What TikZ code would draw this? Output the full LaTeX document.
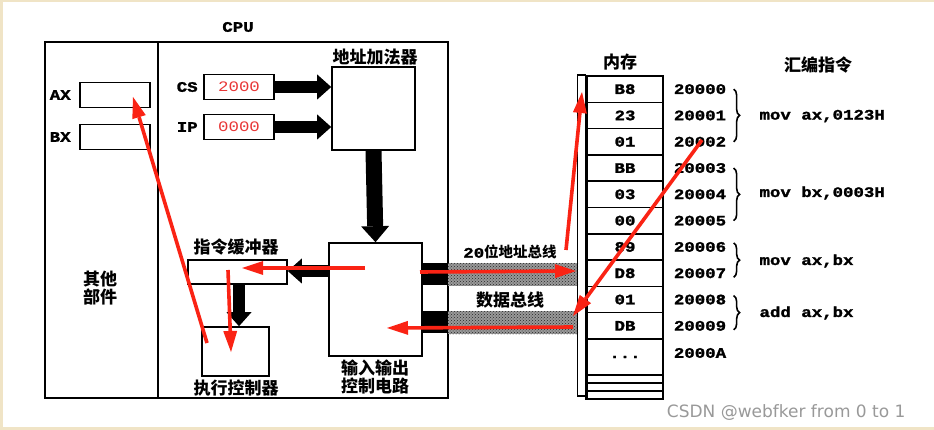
\documentclass[tikz,border=0pt]{standalone}
\usepackage{fontspec}
\setmainfont{Liberation Mono}[FakeStretch=1.2,BoldFeatures={FakeBold=1.6}]
\newfontfamily\cjk{Noto Sans CJK SC}
\newfontfamily\wmfont{DejaVu Sans}
\usetikzlibrary{arrows.meta,patterns,decorations.pathreplacing,positioning}
\definecolor{hl}{RGB}{250,35,20}
\definecolor{digit}{RGB}{232,55,55}
\definecolor{frame}{RGB}{240,228,198}

\begin{document}
\begin{tikzpicture}[x=1pt,y=-1pt,
	blk/.style={draw,line width=1.6pt,inner sep=0pt,fill=white},
	lat/.style={font=\bfseries\fontsize{14.5}{16}\selectfont},
	han/.style={font=\cjk\bfseries\fontsize{17}{17}\selectfont,align=center},
	fat/.style={line width=12pt,-{Triangle[length=14pt,width=25pt,line width=0pt]}},
	redarr/.style={hl,line width=3.6pt,-{Triangle[length=21pt,width=14pt,line width=0pt]}},
	cell/.style={draw,line width=1.5pt,minimum width=76pt,minimum height=26.3pt,inner sep=0pt,lat},
	brc/.style={decorate,decoration={brace,amplitude=6pt},line width=1.6pt}]
	\fill[frame] (0,0) rectangle (934,430);
	\fill[white] (3,2) rectangle (934,427);
	\useasboundingbox (0,0) rectangle (934,430);
	% CPU
	\node[blk,minimum width=403pt,minimum height=356pt] (cpu) at (246.5,220) {};
	\draw[line width=1.6pt] ([xshift=114pt]cpu.north west) -- ([xshift=114pt]cpu.south west);
	\node[lat] (cpulbl) at (238,27) {CPU};
	\node[blk,minimum width=70pt,minimum height=25pt] (ax) at (115,95) {};
	\node[blk,minimum width=70pt,minimum height=25pt] (bx) at (115,137) {};
	\node[lat,left=5pt of ax] (axlbl) {AX};
	\node[lat,left=5pt of bx] (bxlbl) {BX};
	\node[han,font=\cjk\bfseries\fontsize{17}{16}\selectfont] (other) at (100,288) {其他\\部件};
	\node[blk,minimum width=70pt,minimum height=25pt,lat,font=\fontsize{14.5}{16}\selectfont,text=digit] (cs) at (239,87) {2000};
	\node[blk,minimum width=70pt,minimum height=25pt,lat,font=\fontsize{14.5}{16}\selectfont,text=digit] (ip) at (239,127) {0000};
	\node[lat,left=2pt of cs] (cslbl) {CS};
	\node[lat,left=2pt of ip] (iplbl) {IP};
	\node[blk,minimum width=83pt,minimum height=83pt] (adder) at (373.5,108.5) {};
	\node[han] (adderlbl) at (375,57) {地址加法器};
	\node[blk,minimum width=93pt,minimum height=113pt] (io) at (375.5,299.5) {};
	\node[han,font=\cjk\bfseries\fontsize{17}{16}\selectfont] (iolbl) at (375,377) {输入输出\\控制电路};
	\node[blk,minimum width=99pt,minimum height=24pt] (buf) at (237.5,272) {};
	\node[han] (buflbl) at (236,247) {指令缓冲器};
	\node[blk,minimum width=67pt,minimum height=49pt] (exec) at (235.5,351.5) {};
	\node[han] (execlbl) at (236,388) {执行控制器};
	% thick arrows
	\draw[fat] (cs.east) -- (cs.east -| adder.west);
	\draw[fat] (ip.east) -- (ip.east -| adder.west);
	\draw[fat,line width=16pt,-{Triangle[length=16pt,width=28pt,line width=0pt]}] (adder.south) -- (io.north);
	\draw[fat] (io.west |- 0,271) -- (buf.east |- 0,271);
	\draw[fat] (buf.south -| 239,0) -- (exec.north -| 239,0);
	% buses
	\fill (422,263) rectangle (448,285);
	\fill (422,311) rectangle (448,333);
	\fill[black!40] (448,263) rectangle (578,286);
	\fill[pattern=crosshatch dots,pattern color=black!85] (448,263) rectangle (578,286);
	\fill[black!40] (448,311) rectangle (578,334);
	\fill[pattern=crosshatch dots,pattern color=black!85] (448,311) rectangle (578,334);
	\node[lat] (abus) at (510,252) {20{\cjk 位地址总线}};
	\node[han] (dbus) at (510,300) {数据总线};
	% memory
	\node[han] (memlbl) at (620,62) {内存};
	\node[han] (asmlbl) at (818,65) {汇编指令};
	\foreach \T [count=\i from 0] in {B8,23,01,BB,03,00,89,D8,01,DB}
		\node[cell] (m\i) at (625,89.15+26.3*\i) {\T};
	\node[cell,minimum height=36pt] (mdots) at (625,357) {...};
	\foreach \i in {0,1,2}
		\node[cell,minimum height=8pt] (mt\i) at (625,379+8*\i) {};
	\draw[line width=3.5pt] (m0.north west) -- (mt2.south west);
	\draw[line width=1.5pt] (m0.north west) -| ([xshift=-9pt,yshift=4pt]mt2.south west) -- ([yshift=4pt]mt2.south west);
	\foreach \T [count=\i from 0] in {0,...,9}
		\node[lat] (a\i) at (700,89.15+26.3*\i) {2000\T};
	\node[lat] (aA) at (700,353) {2000A};
	\draw[brc] ([xshift=4pt]a0.east) -- ([xshift=4pt]a2.east);
	\draw[brc] ([xshift=4pt]a3.east) -- ([xshift=4pt]a5.east);
	\draw[brc] ([xshift=4pt,yshift=4pt]a6.east) -- ([xshift=4pt,yshift=-4pt]a7.east);
	\draw[brc] ([xshift=4pt,yshift=4pt]a8.east) -- ([xshift=4pt,yshift=-4pt]a9.east);
	\node[lat,anchor=west] (i0) at (756,116) {mov ax,0123H};
	\node[lat,anchor=west] (i1) at (756,193) {mov bx,0003H};
	\node[lat,anchor=west] (i2) at (756,261) {mov ax,bx};
	\node[lat,anchor=west] (i3) at (756,313) {add ax,bx};
	% red marks
	\foreach \n/\x/\y in {s1/207/343,e1/133/97,s2/365/268,e2/242/268,s3/228/270,e3/231/352,
		s4/420/272,e4/576/271,s5/566/250,e5/582/92,s6/702/140,e6/573/316,s7/573/327,e7/387/328}
		\coordinate (\n) at (\x,\y);
	\foreach \k in {1,...,7}
		\draw[redarr] (s\k) -- (e\k);
	\node[font=\wmfont\fontsize{17}{17}\selectfont,text=black!40,anchor=east] (wm) at (909,413) {CSDN @webfker from 0 to 1};
\end{tikzpicture}
\end{document}
